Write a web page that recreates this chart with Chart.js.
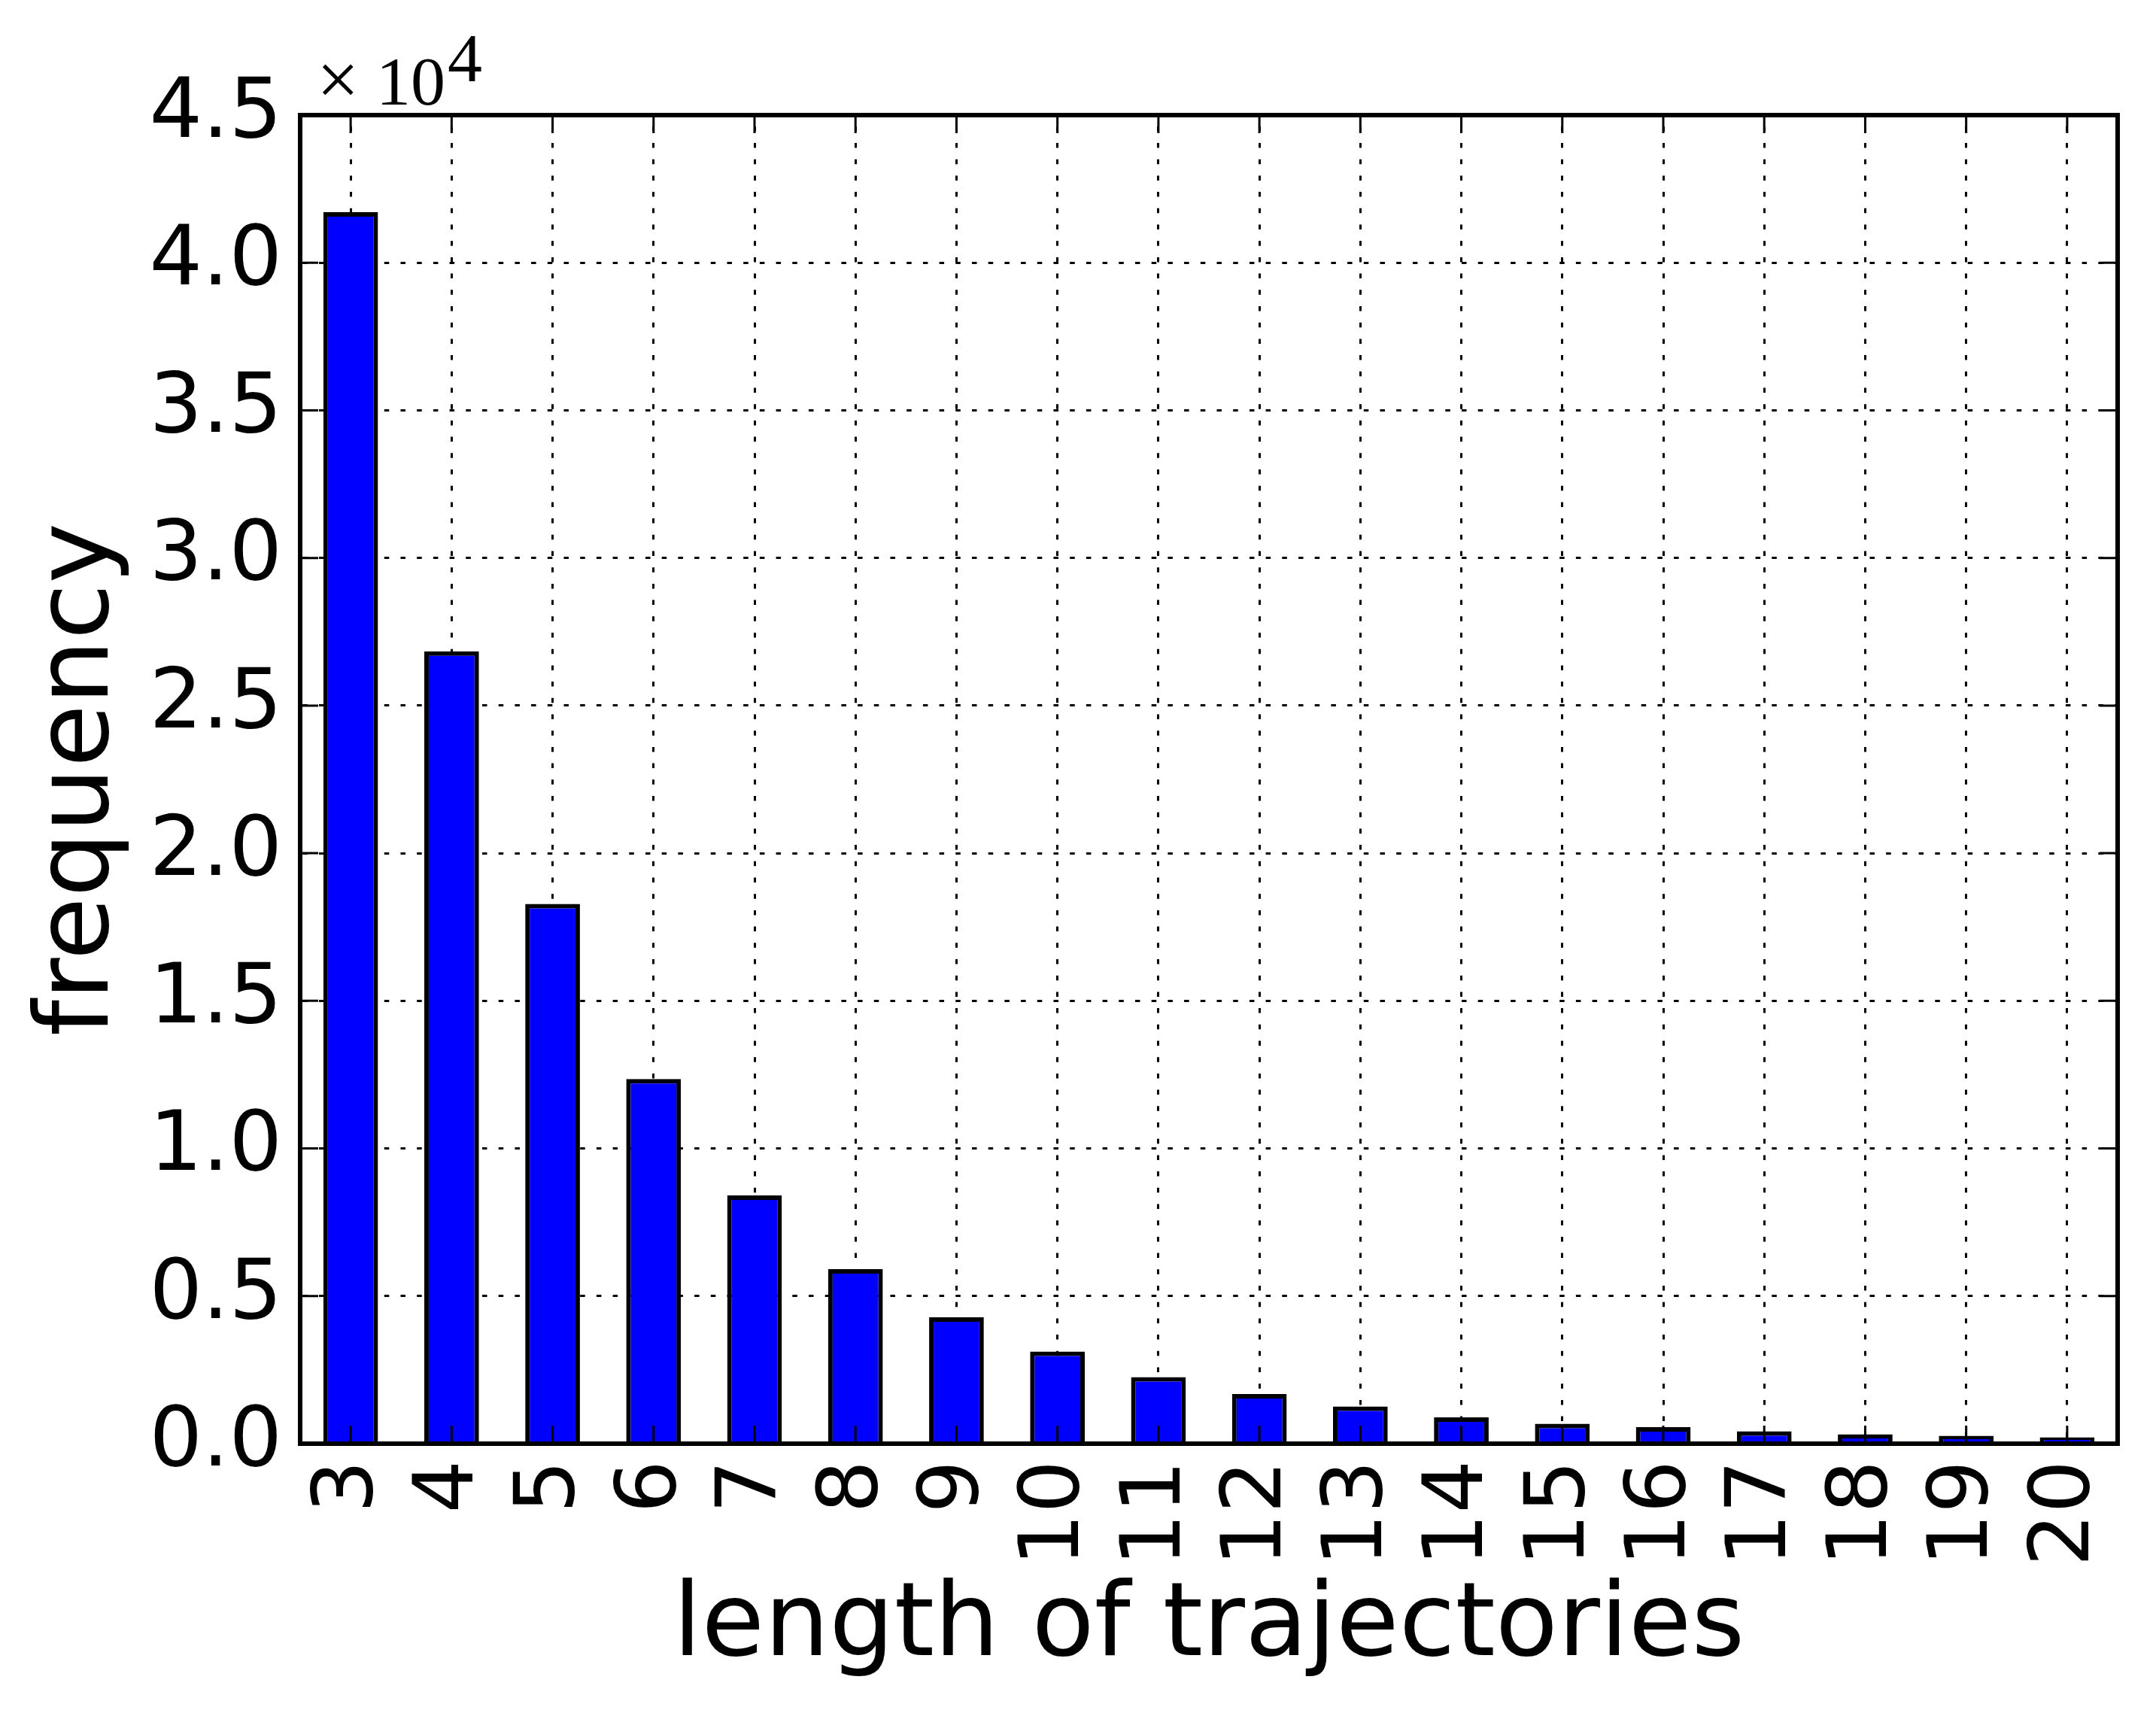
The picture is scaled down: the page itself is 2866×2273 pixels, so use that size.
<!DOCTYPE html>
<html>
<head>
<meta charset="utf-8">
<script src="https://cdn.jsdelivr.net/npm/chart.js@4/dist/chart.umd.min.js"></script>
<style>
  html, body { margin: 0; padding: 0; background: #ffffff; overflow: hidden; }
  #wrap { position: relative; width: 2866px; height: 2273px; }
</style>
</head>
<body>
<div id="wrap"><canvas id="c"></canvas></div>
<script>
// ---- data ----
const categories = ['3','4','5','6','7','8','9','10','11','12','13','14','15','16','17','18','19','20'];
const frequency = [41710, 26840, 18280, 12350, 8410, 5910, 4280, 3120, 2255, 1680, 1260, 890, 675, 560, 420, 320, 268, 217];
const yTickLabels = ['0.0','0.5','1.0','1.5','2.0','2.5','3.0','3.5','4.0','4.5'];
const yMax = 45000;
const yStep = 5000;
const xTitle = 'length of trajectories';
const yTitle = 'frequency';
const offsetText = ['\u00D7', '10', '4'];

const FONT = '"DejaVu Sans", "Liberation Sans", sans-serif';

const framePlugin = {
  id: 'frame',
  afterDraw(chart) {
    const { ctx, chartArea: a, scales: { x, y } } = chart;
    ctx.save();
    ctx.strokeStyle = '#000000';
    ctx.lineCap = 'butt';
    ctx.lineWidth = 3;
    const tl = 24;
    ctx.beginPath();
    x.ticks.forEach((t, i) => {
      const px = x.getPixelForTick(i);
      ctx.moveTo(px, a.bottom); ctx.lineTo(px, a.bottom - tl);
      ctx.moveTo(px, a.top); ctx.lineTo(px, a.top + tl);
    });
    y.ticks.forEach((t, i) => {
      const py = y.getPixelForTick(i);
      ctx.moveTo(a.left, py); ctx.lineTo(a.left + tl, py);
      ctx.moveTo(a.right, py); ctx.lineTo(a.right - tl, py);
    });
    ctx.stroke();
    ctx.lineWidth = 6;
    ctx.strokeRect(a.left, a.top, a.right - a.left, a.bottom - a.top);
    // offset text (x10^4)
    ctx.fillStyle = '#000000';
    ctx.textBaseline = 'alphabetic';
    ctx.textAlign = 'left';
    const base = a.top - 14;
    ctx.font = '100px "Liberation Serif", "DejaVu Serif", serif';
    ctx.fillText(offsetText[0], a.left + 22, base);
    ctx.font = '92px "Liberation Serif", "DejaVu Serif", serif';
    ctx.fillText(offsetText[1], a.left + 101, base);
    ctx.fillText(offsetText[2], a.left + 196, base - 31);
    ctx.restore();
  }
};

new Chart(document.getElementById('c'), {
  type: 'bar',
  data: {
    labels: categories,
    datasets: [{
      data: frequency,
      backgroundColor: '#0000ff',
      borderColor: '#000000',
      borderWidth: 6,
      barPercentage: 0.542,
      categoryPercentage: 1.0
    }]
  },
  options: {
    responsive: true,
    maintainAspectRatio: false,
    animation: false,
    devicePixelRatio: 1,
    layout: { padding: { left: 0, right: 51, top: 153, bottom: 0 } },
    plugins: { legend: { display: false }, tooltip: { enabled: false } },
    scales: {
      x: {
        type: 'category',
        offset: true,
        z: 1,
        afterFit(scale) {
          scale.height = 354;
          scale.paddingLeft = 0;
          scale.paddingRight = 0;
        },
        grid: {
          display: true,
          offset: false,
          drawOnChartArea: true,
          drawTicks: false,
          color: '#000000',
          lineWidth: 3
        },
        border: { display: false, dash: [6.5, 15.2], dashOffset: 6.4 },
        ticks: {
          autoSkip: false,
          minRotation: 90,
          maxRotation: 90,
          padding: 22,
          labelOffset: -1,
          color: '#000000',
          font: { family: FONT, size: 111 }
        },
        title: {
          display: true,
          text: xTitle,
          color: '#000000',
          font: { family: FONT, size: 136, lineHeight: 1 },
          padding: { top: 0, bottom: 40 }
        }
      },
      y: {
        min: 0,
        max: yMax,
        z: 1,
        afterFit(scale) {
          scale.width = 399;
          scale.paddingTop = 0;
          scale.paddingBottom = 0;
        },
        grid: {
          display: true,
          drawTicks: false,
          color: '#000000',
          lineWidth: 3
        },
        border: { display: false, dash: [6.5, 15.2], dashOffset: 18.4 },
        ticks: {
          stepSize: yStep,
          padding: 24,
          color: '#000000',
          font: { family: FONT, size: 111 },
          callback: (v, i) => yTickLabels[i]
        },
        title: {
          display: true,
          text: yTitle,
          color: '#000000',
          font: { family: FONT, size: 136, lineHeight: 1 },
          padding: { top: 40, bottom: 0 }
        }
      }
    }
  },
  plugins: [framePlugin]
});
</script>
</body>
</html>
